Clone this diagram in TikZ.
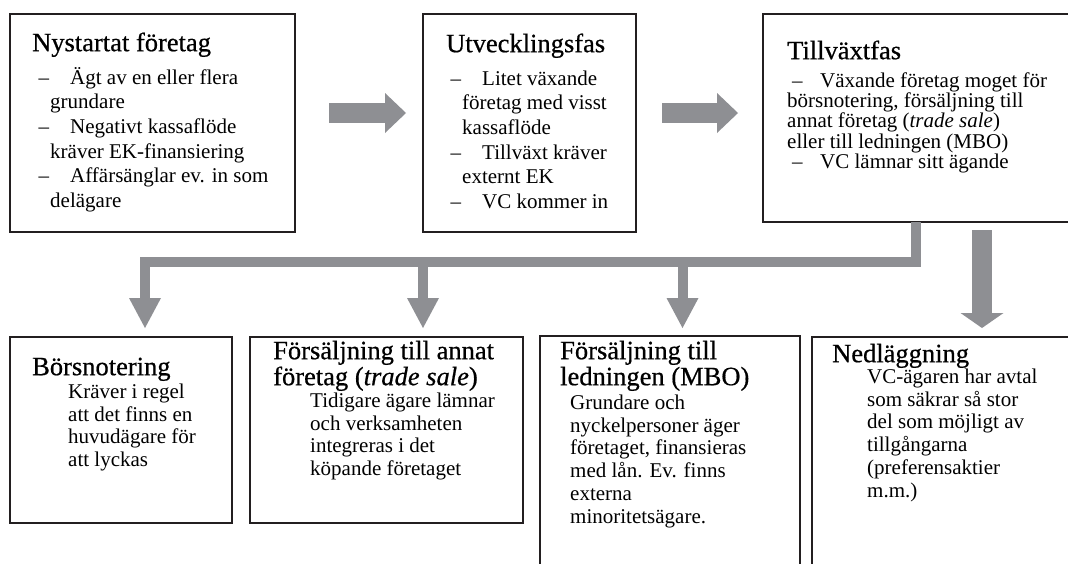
\documentclass[tikz,border=0pt]{standalone}
\usepackage{fontspec}
\setmainfont{Liberation Serif}
\usetikzlibrary{arrows.meta}
\definecolor{arrowgray}{HTML}{8E8F93}
\definecolor{boxline}{HTML}{231F20}
\newcommand{\st}{\rule{0pt}{22pt}}
\newcommand{\lit}{\llap{–\hspace{1pt}}\hspace*{20pt}}
\newcommand{\litb}{\makebox[33pt][l]{\hspace*{5pt}–}}
\tikzset{
  box/.style={draw=boxline, line width=2pt, anchor=north west, inner sep=0pt, outer sep=0pt},
  txt/.style={anchor=north west, inner sep=0pt, align=left, text=black},
  ttl/.style={txt, font=\fontsize{26.5}{26}\selectfont\addfontfeature{FakeBold=0.6}},
  bodyA/.style={txt, font=\fontsize{21}{24.6}\selectfont},
  bodyB/.style={txt, font=\fontsize{21}{20.3}\selectfont},
  bodyC/.style={txt, font=\fontsize{21}{22.8}\selectfont},
  flow/.style={draw=arrowgray, line width=20pt, -{Triangle[length=21pt,width=40pt,line width=0pt]}},
  trunk/.style={draw=arrowgray, line width=10pt, line join=miter},
  drop/.style={draw=arrowgray, line width=10pt, -{Triangle[length=30pt,width=32pt,line width=0pt]}},
  bigdrop/.style={draw=arrowgray, line width=20pt, -{Triangle[length=15pt,width=43pt,line width=0pt]}},
}
\begin{document}
\begin{tikzpicture}[x=1pt,y=-1pt]
\useasboundingbox (0,0) rectangle (1068,563);
\clip (0,0) rectangle (1068,563);
\fill[white] (0,0) rectangle (1068,563);

% boxes
\node[box, minimum width=285pt, minimum height=218pt] (b1) at (10,14) {};
\node[box, minimum width=213pt, minimum height=218pt] (b2) at (423,14) {};
\node[box, minimum width=330pt, minimum height=208pt] (b3) at (763,14) {};
\node[box, minimum width=222pt, minimum height=186pt] (b4) at (10,337) {};
\node[box, minimum width=273pt, minimum height=186pt] (b5) at (250,337) {};
\node[box, minimum width=260pt, minimum height=260pt] (b6) at (540,336) {};
\node[box, minimum width=280pt, minimum height=260pt] (b7) at (812,337) {};

% texts
\node[ttl] (t1) at (32,29) {\st Nystartat företag};
\node[bodyA] (x1) at (50,62) {\st\lit Ägt av en eller flera\\grundare\\\lit Negativt kassaflöde\\kräver EK-finansiering\\\lit Affärsänglar ev. in som\\delägare};

\node[ttl] (t2) at (446,30) {\st Utvecklingsfas};
\node[bodyA] (x2) at (462,63) {\st\lit Litet växande\\företag med visst\\kassaflöde\\\lit Tillväxt kräver\\externt EK\\\lit VC kommer in};

\node[ttl] (t3) at (787,37) {\st Tillväxtfas};
\node[bodyB] (x3) at (787,65) {\st\litb Växande företag moget för\\börsnotering, försäljning till\\annat företag (\textit{trade sale})\\eller till ledningen (MBO)\\\litb VC lämnar sitt ägande};

\node[ttl] (t4) at (32,353) {\st Börsnotering};
\node[bodyC] (x4) at (68,376) {\st Kräver i regel\\att det finns en\\huvudägare för\\att lyckas};

\node[ttl] (t5) at (273,337) {\st Försäljning till annat\\företag (\textit{trade sale})};
\node[bodyC] (x5) at (310,385) {\st Tidigare ägare lämnar\\och verksamheten\\integreras i det\\köpande företaget};

\node[ttl] (t6) at (560,337) {\st Försäljning till\\ledningen (MBO)};
\node[bodyC] (x6) at (570,387) {\st Grundare och\\nyckelpersoner äger\\företaget, finansieras\\med lån. Ev. finns\\externa\\minoritetsägare.};

\node[ttl] (t7) at (832,340) {\st Nedläggning};
\node[bodyC] (x7) at (867,361) {\st VC-ägaren har avtal\\som säkrar så stor\\del som möjligt av\\tillgångarna\\(preferensaktier\\m.m.)};

% arrows
\draw[flow] ([shift={(34pt,10pt)}]b1.east) -- ([shift={(-17pt,10pt)}]b2.west);
\draw[flow] ([shift={(26pt,10pt)}]b2.east) -- ([shift={(-25pt,5pt)}]b3.west);

\coordinate (j1) at (145,262);
\coordinate (j2) at (423,262);
\coordinate (j3) at (682.5,262);
\draw[trunk] ([xshift=152.5pt]b3.south west) |- (140,262);
\draw[drop] (j1) -- ([shift={(135pt,9pt)}]b4.north west);
\draw[drop] (j2) -- ([shift={(173pt,9pt)}]b5.north west);
\draw[drop] (j3) -- ([shift={(142.5pt,8pt)}]b6.north west);
\draw[bigdrop] ([shift={(219pt,-8pt)}]b3.south west) -- ([shift={(170pt,9pt)}]b7.north west);
\end{tikzpicture}
\end{document}
